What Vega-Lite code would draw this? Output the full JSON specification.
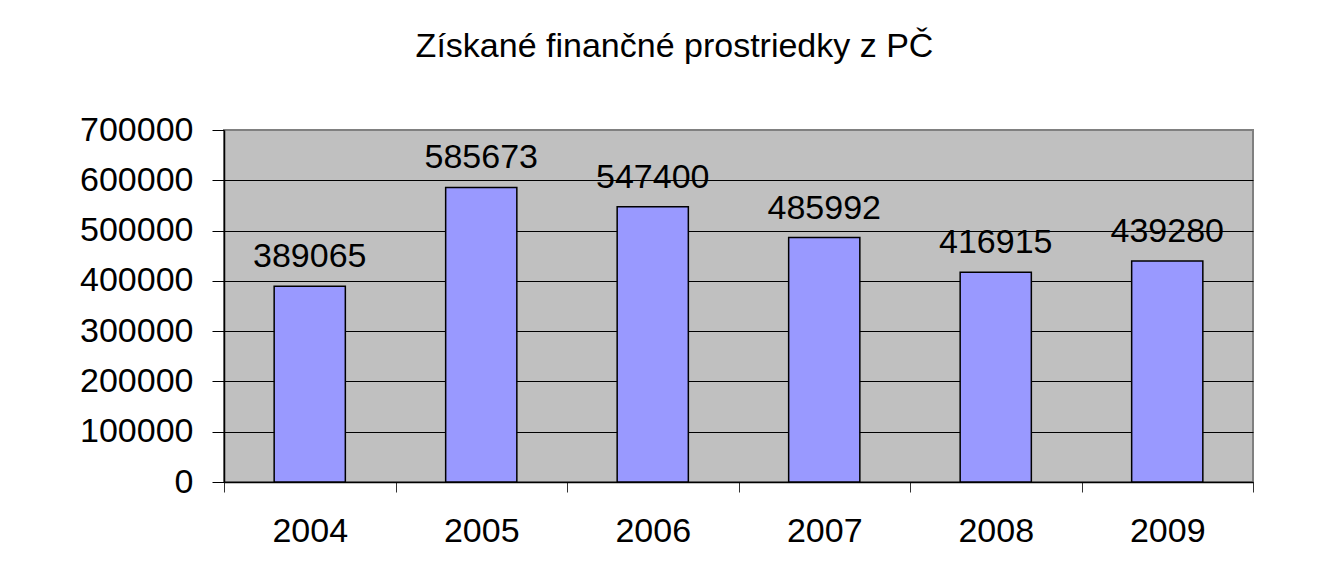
{
  "$schema": "https://vega.github.io/schema/vega-lite/v6.json",
  "autosize": {"type": "none"},
  "padding": {"left": 224, "top": 130, "right": 73, "bottom": 89},
  "width": 1029,
  "height": 352,
  "background": "#FFFFFF",
  "title": {
    "text": "Získané finančné prostriedky z PČ",
    "font": "Liberation Sans",
    "fontSize": 34,
    "fontWeight": "normal",
    "color": "#000000",
    "anchor": "middle",
    "frame": "group",
    "baseline": "alphabetic",
    "dx": -64,
    "dy": -18
  },
  "data": {
    "values": [
      {"rok": "2004", "suma": 389065},
      {"rok": "2005", "suma": 585673},
      {"rok": "2006", "suma": 547400},
      {"rok": "2007", "suma": 485992},
      {"rok": "2008", "suma": 416915},
      {"rok": "2009", "suma": 439280}
    ]
  },
  "encoding": {
    "x": {
      "field": "rok",
      "type": "nominal",
      "scale": {"paddingInner": 0, "paddingOuter": 0},
      "axis": {
        "title": null,
        "labelAngle": 0,
        "labelFont": "Liberation Sans",
        "labelFontSize": 34,
        "labelColor": "#000000",
        "labelPadding": 22,
        "tickBand": "extent",
        "tickColor": "#333333",
        "tickSize": 10,
        "tickWidth": 1,
        "domainColor": "#000000",
        "domainWidth": 1.5,
        "grid": false
      }
    },
    "y": {
      "field": "suma",
      "type": "quantitative",
      "scale": {"domain": [0, 700000], "nice": false},
      "axis": {
        "title": null,
        "values": [0, 100000, 200000, 300000, 400000, 500000, 600000, 700000],
        "format": "d",
        "labelFont": "Liberation Sans",
        "labelFontSize": 34,
        "labelColor": "#000000",
        "labelPadding": 19,
        "tickColor": "#000000",
        "tickSize": 12,
        "tickWidth": 1,
        "domainColor": "#000000",
        "domainWidth": 1.5,
        "grid": true,
        "gridColor": {"condition": {"test": "datum.value === 700000", "value": "#808080"}, "value": "#000000"},
        "gridWidth": 1,
        "gridOpacity": 1
      }
    }
  },
  "layer": [
    {
      "mark": {"type": "bar", "width": {"band": 0.415}, "fill": "#9999FF", "stroke": "#000000", "strokeWidth": 1.5}
    },
    {
      "mark": {"type": "text", "baseline": "alphabetic", "dy": -19, "font": "Liberation Sans", "fontSize": 34, "color": "#000000"},
      "encoding": {"text": {"field": "suma", "type": "quantitative", "format": "d"}}
    }
  ],
  "config": {
    "view": {"fill": "#C0C0C0", "stroke": "#808080", "strokeWidth": 2}
  }
}
